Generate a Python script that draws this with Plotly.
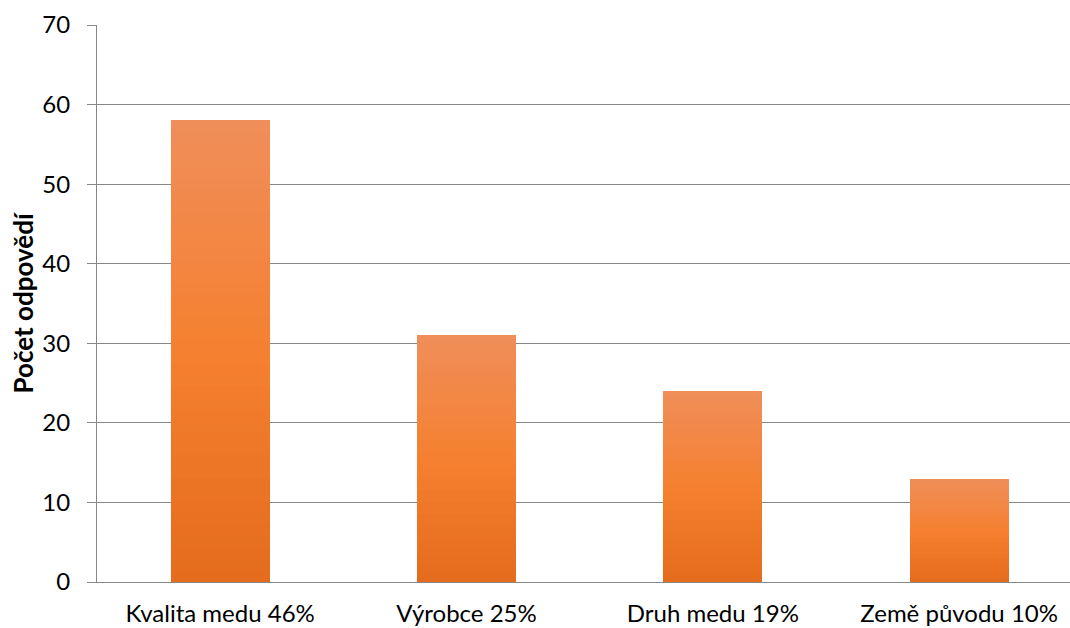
import plotly.graph_objects as go

categories = ["Kvalita medu 46%", "Výrobce 25%", "Druh medu 19%", "Země původu 10%"]
values = [58, 31, 24, 13]
y_ticks = [0, 10, 20, 30, 40, 50, 60, 70]
y_title = "Počet odpovědí"

# gradient stops (fraction from bottom, rgb)
stops = [(0.0, (228, 108, 28)), (0.5, (245, 128, 48)), (1.0, (240, 142, 90))]

def color_at(t):
    for (t0, c0), (t1, c1) in zip(stops[:-1], stops[1:]):
        if t0 <= t <= t1:
            f = (t - t0) / (t1 - t0)
            c = [round(a + (b - a) * f) for a, b in zip(c0, c1)]
            return f"rgb({c[0]},{c[1]},{c[2]})"
    c = stops[-1][1]
    return f"rgb({c[0]},{c[1]},{c[2]})"

N = 40
fig = go.Figure()
for i in range(N):
    t = (i + 0.5) / N
    fig.add_trace(go.Bar(
        x=categories,
        y=[v / N for v in values],
        marker=dict(color=color_at(t), line=dict(width=0)),
        showlegend=False,
        hoverinfo="skip",
    ))

font_family = "Lato, 'Open Sans', sans-serif"
fig.update_layout(
    barmode="stack",
    bargap=0.598,
    width=1070,
    height=628,
    margin=dict(l=97, r=0, t=25, b=46),
    paper_bgcolor="white",
    plot_bgcolor="white",
    font=dict(family=font_family, size=24, color="black"),
    xaxis=dict(
        range=[-0.5, 3.45],
        showline=True, linecolor="#878787", linewidth=1,
        showgrid=False, ticks="", tickfont=dict(size=24),
        ticklabelstandoff=10, automargin=False,
    ),
    yaxis=dict(
        range=[0, 70], tickvals=y_ticks,
        showline=True, linecolor="#878787", linewidth=1,
        showgrid=True, gridcolor="#878787", gridwidth=1,
        ticks="outside", ticklen=9, tickcolor="#878787",
        tickfont=dict(size=24), ticklabelstandoff=12,
        zeroline=False, automargin=False,
    ),
    annotations=[dict(
        text=f"<b>{y_title}</b>", textangle=-90,
        xref="paper", yref="paper", x=0, y=0.5,
        xanchor="center", yanchor="middle", xshift=-75,
        showarrow=False, font=dict(size=26, family=font_family, color="black"),
    )],
)
fig.write_html("out.html")
